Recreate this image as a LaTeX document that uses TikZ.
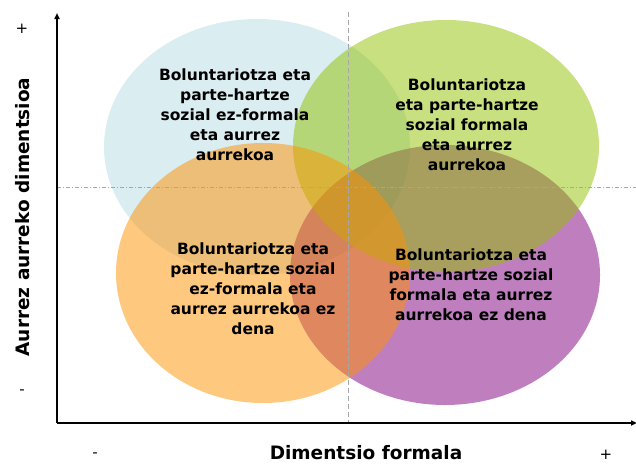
\documentclass[tikz,border=0pt]{standalone}
\usepackage{fontspec}
\setmainfont{DejaVu Sans}
\usetikzlibrary{arrows.meta}
\definecolor{cblue}{RGB}{181,219,225}
\definecolor{cgreen}{RGB}{145,193,0}
\definecolor{corange}{RGB}{255,145,0}
\definecolor{cpurple}{RGB}{127,0,127}
\begin{document}
\begin{tikzpicture}[x=1pt,y=-1pt,
  blob/.style={fill opacity=0.5, draw=none},
  qtext/.style={font=\bfseries\fontsize{15.5}{20}\selectfont, align=center, text=black, inner sep=0pt},
  axlabel/.style={font=\bfseries\fontsize{18.5}{20}\selectfont, inner sep=0pt},
  tick/.style={font=\fontsize{15}{16}\selectfont, inner sep=0pt},
  axis/.style={line width=1.8pt, -{Triangle[length=6pt,width=5pt]}},
  guide/.style={gray!70, line width=0.7pt}]
\useasboundingbox (0,0) rectangle (636,463);
% ellipses
\fill[blob, cblue] (257,147) ellipse [x radius=153, y radius=128];
\fill[blob, cpurple] (445,275) ellipse [x radius=155, y radius=130];
\fill[blob, cgreen] (446,146) ellipse [x radius=153, y radius=126];
\fill[blob, corange] (263,273) ellipse [x radius=147, y radius=130];
% guides
\coordinate (vt) at (348,12);
\coordinate (vb) at (348,423);
\coordinate (hl) at (57,187);
\coordinate (hr) at (636,187);
\draw[guide, dash pattern=on 5pt off 3pt] (vt) -- (vb);
\draw[guide, dash pattern=on 4pt off 2pt on 1pt off 2pt] (hl) -- (hr);
% axes
\coordinate (o) at (57,423);
\coordinate (ytop) at (57,13);
\coordinate (xend) at (636,423);
\draw[axis] (o) -- (ytop);
\draw[axis, shorten >=-1pt] (o) -- (xend);
% labels
\node[qtext] (tl) at (235,115) {Boluntariotza eta\\parte-hartze\\sozial ez-formala\\eta aurrez\\aurrekoa};
\node[qtext] (tr) at (467,125) {Boluntariotza\\eta parte-hartze\\sozial formala\\eta aurrez\\aurrekoa};
\node[qtext] (bl) at (253,289) {Boluntariotza eta\\parte-hartze sozial\\ez-formala eta\\aurrez aurrekoa ez\\dena};
\node[qtext] (br) at (471,285) {Boluntariotza eta\\parte-hartze sozial\\formala eta aurrez\\aurrekoa ez dena};
\node[axlabel, rotate=90] (ylab) at (23,217) {Aurrez aurreko dimentsioa};
\node[axlabel, anchor=base] (xlab) at (366,459) {Dimentsio formala};
\node[tick] (yp) at (22,29) {+};
\node[tick] (ym) at (22,392) {-};
\node[tick] (xm) at (95,455) {-};
\node[tick] (xp) at (606,455) {+};
\end{tikzpicture}
\end{document}
